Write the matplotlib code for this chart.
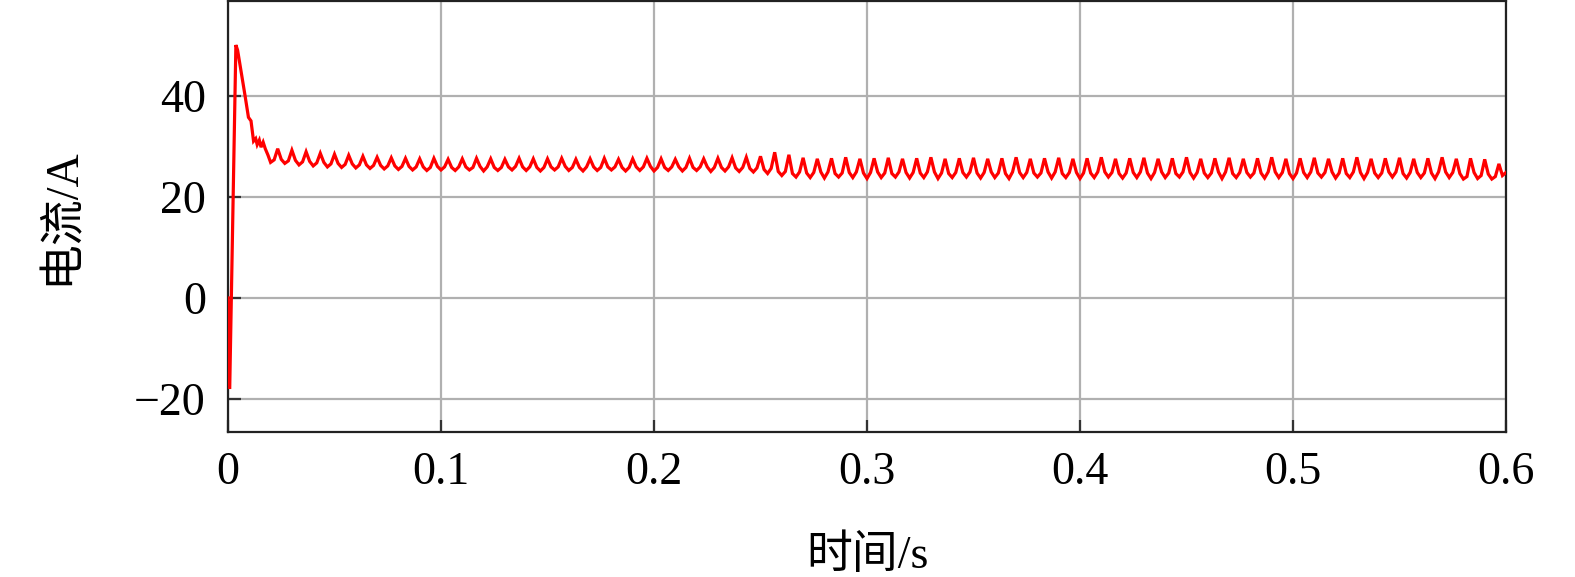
import numpy as np
import matplotlib
matplotlib.use("Agg")
import matplotlib.pyplot as plt

plt.rcParams['font.family'] = ['Liberation Serif', 'Noto Sans CJK SC', 'DejaVu Sans']
plt.rcParams['axes.unicode_minus'] = True

# ---- data ----
# start-up transient
t_start = [0.0, 0.0008, 0.0037, 0.0045, 0.0080, 0.0096, 0.0108, 0.0120, 0.0130,
           0.0137, 0.0147, 0.0155, 0.0165, 0.0175, 0.0188]
i_start = [0.0, -18.0, 50.0, 49.0, 40.0, 35.7, 35.0, 31.0, 31.5,
           30.3, 31.2, 29.8, 30.8, 29.5, 28.2]

# steady ripple, sampled every 1/600 s from 0.02 s (trough, rise, peak, fall per ripple cycle)
ripple_t0 = 0.02
ripple_dt = 1.0 / 600.0
i_ripple = [
    26.8, 27.3, 29.5, 27.4,  26.6, 27.1, 29.2, 27.2,  26.3, 26.9, 28.9, 27.0,
    26.1, 26.7, 28.6, 26.8,  25.9, 26.5, 28.4, 26.6,  25.8, 26.4, 28.2, 26.5,
    25.7, 26.3, 28.0, 26.3,  25.6, 26.2, 27.8, 26.2,  25.5, 26.1, 27.7, 26.1,
    25.4, 26.0, 27.6, 26.0,  25.3, 25.9, 27.5, 25.9,  25.2, 25.8, 27.6, 26.0,
    25.3, 25.9, 27.4, 25.8,  25.2, 25.9, 27.5, 25.9,  25.3, 25.8, 27.6, 26.0,
    25.1, 25.9, 27.5, 25.8,  25.2, 25.8, 27.4, 25.9,  25.3, 26.0, 27.6, 25.9,
    25.2, 25.9, 27.5, 25.8,  25.1, 25.8, 27.5, 25.9,  25.3, 25.9, 27.6, 26.0,
    25.2, 25.8, 27.4, 25.8,  25.1, 25.9, 27.5, 25.9,  25.2, 25.8, 27.6, 25.9,
    25.3, 25.9, 27.4, 25.8,  25.1, 25.8, 27.5, 25.9,  25.2, 25.9, 27.6, 26.0,
    25.1, 25.8, 27.5, 25.8,  25.2, 25.9, 27.4, 25.9,  25.1, 25.8, 27.6, 25.8,
    25.2, 25.9, 27.5, 25.9,  25.0, 25.8, 27.6, 25.8,  25.1, 25.9, 27.7, 25.7,
    25.0, 25.8, 27.8, 25.6,  24.9, 25.7, 28.0, 25.4,  24.6, 25.6, 28.8, 25.0,
    24.2, 25.0, 28.3, 24.6,
    23.9, 24.9, 27.7, 24.7,  23.8, 24.8, 27.5, 24.9,  23.7, 24.9, 27.6, 24.6,
    23.9, 24.7, 27.8, 24.8,  23.8, 24.9, 27.5, 24.7,  23.6, 24.8, 27.6, 24.9,
    23.8, 24.7, 27.7, 24.6,  23.9, 24.9, 27.5, 24.8,  23.7, 24.8, 27.6, 24.7,
    23.8, 24.9, 27.8, 24.9,  23.6, 24.7, 27.5, 24.6,  23.8, 24.8, 27.6, 24.8,
    23.9, 24.9, 27.7, 24.7,  23.7, 24.8, 27.5, 24.9,  23.8, 24.7, 27.6, 24.6,
    23.6, 24.9, 27.8, 24.8,  23.8, 24.8, 27.5, 24.7,  23.9, 24.7, 27.6, 24.9,
    23.7, 24.9, 27.7, 24.6,  23.8, 24.8, 27.5, 24.8,  23.6, 24.7, 27.6, 24.7,
    23.8, 24.9, 27.8, 24.9,  23.9, 24.8, 27.5, 24.6,  23.7, 24.7, 27.6, 24.8,
    23.8, 24.9, 27.7, 24.7,  23.6, 24.8, 27.5, 24.9,  23.8, 24.7, 27.6, 24.6,
    23.9, 24.9, 27.8, 24.8,  23.7, 24.8, 27.5, 24.7,  23.8, 24.7, 27.6, 24.9,
    23.6, 24.9, 27.7, 24.6,  23.8, 24.8, 27.5, 24.8,  23.9, 24.7, 27.6, 24.7,
    23.7, 24.9, 27.8, 24.9,  23.8, 24.8, 27.5, 24.6,  23.6, 24.7, 27.6, 24.8,
    23.8, 24.9, 27.7, 24.7,  23.9, 24.8, 27.5, 24.9,  23.7, 24.7, 27.6, 24.6,
    23.8, 24.9, 27.8, 24.8,  23.6, 24.8, 27.5, 24.7,  23.8, 24.7, 27.6, 24.9,
    23.9, 24.9, 27.7, 24.6,  23.7, 24.8, 27.5, 24.8,  23.8, 24.7, 27.6, 24.7,
    23.6, 24.9, 27.8, 24.9,  23.8, 24.8, 27.5, 24.6,  23.5, 24.0, 27.6, 24.8,
    23.6, 24.2, 27.4, 24.5,  23.5, 24.0, 26.5, 24.2,
    24.8,
]

x_ticks = [0, 0.1, 0.2, 0.3, 0.4, 0.5, 0.6]
x_tick_labels = ['0', '0.1', '0.2', '0.3', '0.4', '0.5', '0.6']
y_ticks = [-20, 0, 20, 40]
y_tick_labels = ['\u221220', '0', '20', '40']
x_label = '时间/s'
y_label = '电流/A'

# ---- build series ----
t_ripple = ripple_t0 + ripple_dt * np.arange(len(i_ripple))
t = np.concatenate([np.array(t_start), t_ripple])
cur = np.concatenate([np.array(i_start), np.array(i_ripple)])

fig = plt.figure(figsize=(15.75, 5.77), dpi=100)
ax = fig.add_axes([228 / 1575, 1 - 432 / 577, (1506 - 228) / 1575, 431 / 577])

ax.plot(t, cur, color='#ff0000', lw=2.3, zorder=3, solid_joinstyle='miter')

ax.set_xlim(0, 0.6)
ax.set_ylim(-26.5, 58.7)
ax.set_xticks(x_ticks)
ax.set_xticklabels(x_tick_labels)
ax.set_yticks(y_ticks)
ax.set_yticklabels(y_tick_labels)

ax.grid(True, color='#b0b0b0', lw=1.6, zorder=0)
ax.set_axisbelow(True)
for s in ax.spines.values():
    s.set_color('#222222')
    s.set_linewidth(1.6)

ax.tick_params(direction='in', length=9, width=1.6, color='#333333',
               labelsize=33, pad=14)
ax.tick_params(axis='y', pad=16)

ax.set_xlabel(x_label, fontsize=33, labelpad=30)
ax.set_ylabel(y_label, fontsize=33, labelpad=36)

fig.savefig('out.png', dpi=100)
